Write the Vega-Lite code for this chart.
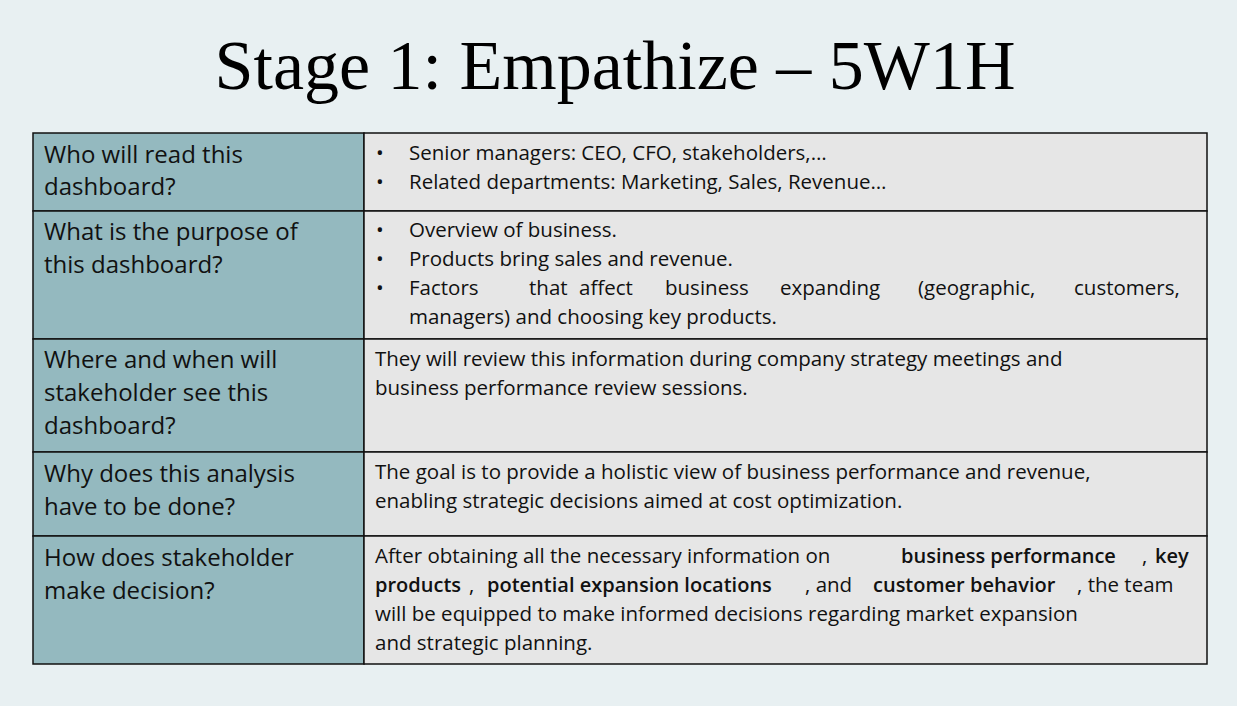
{
  "$schema": "https://vega.github.io/schema/vega-lite/v6.json",
  "width": 1237,
  "height": 706,
  "padding": 0,
  "autosize": {"type": "none"},
  "background": "#e8f0f2",
  "config": {"view": {"stroke": null}},
  "datasets": {
    "cells": [
      {"x0": 33, "x1": 364, "y0": 133, "y1": 211, "col": "q"},
      {"x0": 364, "x1": 1207, "y0": 133, "y1": 211, "col": "a"},
      {"x0": 33, "x1": 364, "y0": 211, "y1": 339, "col": "q"},
      {"x0": 364, "x1": 1207, "y0": 211, "y1": 339, "col": "a"},
      {"x0": 33, "x1": 364, "y0": 339, "y1": 452, "col": "q"},
      {"x0": 364, "x1": 1207, "y0": 339, "y1": 452, "col": "a"},
      {"x0": 33, "x1": 364, "y0": 452, "y1": 536, "col": "q"},
      {"x0": 364, "x1": 1207, "y0": 452, "y1": 536, "col": "a"},
      {"x0": 33, "x1": 364, "y0": 536, "y1": 664, "col": "q"},
      {"x0": 364, "x1": 1207, "y0": 536, "y1": 664, "col": "a"}
    ],
    "questions": [
      {"x": 44, "y": 156, "t": "Who will read this"},
      {"x": 44, "y": 188, "t": "dashboard?"},
      {"x": 44, "y": 233, "t": "What is the purpose of"},
      {"x": 44, "y": 266, "t": "this dashboard?"},
      {"x": 44, "y": 361, "t": "Where and when will"},
      {"x": 44, "y": 394, "t": "stakeholder see this"},
      {"x": 44, "y": 427, "t": "dashboard?"},
      {"x": 44, "y": 475, "t": "Why does this analysis"},
      {"x": 44, "y": 508, "t": "have to be done?"},
      {"x": 44, "y": 559, "t": "How does stakeholder"},
      {"x": 44, "y": 592, "t": "make decision?"}
    ],
    "answers": [
      {"x": 376, "y": 154, "t": "•", "b": false},
      {"x": 409, "y": 154, "t": "Senior managers: CEO, CFO, stakeholders,…", "b": false},
      {"x": 376, "y": 183, "t": "•", "b": false},
      {"x": 409, "y": 183, "t": "Related departments: Marketing, Sales, Revenue…", "b": false},
      {"x": 376, "y": 231, "t": "•", "b": false},
      {"x": 409, "y": 231, "t": "Overview of business.", "b": false},
      {"x": 376, "y": 260, "t": "•", "b": false},
      {"x": 409, "y": 260, "t": "Products bring sales and revenue.", "b": false},
      {"x": 376, "y": 289, "t": "•", "b": false},
      {"x": 409, "y": 289, "t": "Factors", "b": false},
      {"x": 529, "y": 289, "t": "that", "b": false},
      {"x": 579, "y": 289, "t": "affect", "b": false},
      {"x": 665, "y": 289, "t": "business", "b": false},
      {"x": 780, "y": 289, "t": "expanding", "b": false},
      {"x": 918, "y": 289, "t": "(geographic,", "b": false},
      {"x": 1074, "y": 289, "t": "customers,", "b": false},
      {"x": 409, "y": 318, "t": "managers) and choosing key products.", "b": false},
      {"x": 375, "y": 360, "t": "They will review this information during company strategy meetings and", "b": false},
      {"x": 375, "y": 389, "t": "business performance review sessions.", "b": false},
      {"x": 375, "y": 473, "t": "The goal is to provide a holistic view of business performance and revenue,", "b": false},
      {"x": 375, "y": 502, "t": "enabling strategic decisions aimed at cost optimization.", "b": false},
      {"x": 375, "y": 557, "t": "After obtaining all the necessary information on", "b": false},
      {"x": 901, "y": 557, "t": "business performance", "b": true},
      {"x": 1142, "y": 557, "t": ",", "b": false},
      {"x": 1155, "y": 557, "t": "key", "b": true},
      {"x": 375, "y": 586, "t": "products", "b": true},
      {"x": 469, "y": 586, "t": ",", "b": false},
      {"x": 487, "y": 586, "t": "potential expansion locations", "b": true},
      {"x": 805, "y": 586, "t": ", and", "b": false},
      {"x": 873, "y": 586, "t": "customer behavior", "b": true},
      {"x": 1077, "y": 586, "t": ", the team", "b": false},
      {"x": 375, "y": 615, "t": "will be equipped to make informed decisions regarding market expansion", "b": false},
      {"x": 375, "y": 644, "t": "and strategic planning.", "b": false}
    ],
    "heading": [{"x": 615, "y": 68, "t": "Stage 1: Empathize – 5W1H"}]
  },
  "layer": [
    {
      "data": {"name": "cells"},
      "mark": {"type": "rect", "stroke": "#111111", "strokeWidth": 1.5},
      "encoding": {
        "x": {"field": "x0", "type": "quantitative", "scale": {"domain": [0, 1237]}, "axis": null},
        "x2": {"field": "x1"},
        "y": {"field": "y0", "type": "quantitative", "scale": {"domain": [0, 706], "reverse": true}, "axis": null},
        "y2": {"field": "y1"},
        "color": {"field": "col", "type": "nominal", "legend": null,
          "scale": {"domain": ["q", "a"], "range": ["#94b9bf", "#e6e6e6"]}},
        "opacity": {"value": 1}
      }
    },
    {
      "data": {"name": "questions"},
      "mark": {"type": "text", "align": "left", "baseline": "middle", "font": "Open Sans", "fontSize": 24, "color": "#111111"},
      "encoding": {
        "x": {"field": "x", "type": "quantitative", "scale": {"domain": [0, 1237]}, "axis": null},
        "y": {"field": "y", "type": "quantitative", "scale": {"domain": [0, 706], "reverse": true}, "axis": null},
        "text": {"field": "t"}
      }
    },
    {
      "data": {"name": "answers"},
      "transform": [{"filter": "!datum.b"}],
      "mark": {"type": "text", "align": "left", "baseline": "middle", "font": "Open Sans", "fontSize": 20.5, "color": "#111111"},
      "encoding": {
        "x": {"field": "x", "type": "quantitative", "scale": {"domain": [0, 1237]}, "axis": null},
        "y": {"field": "y", "type": "quantitative", "scale": {"domain": [0, 706], "reverse": true}, "axis": null},
        "text": {"field": "t"}
      }
    },
    {
      "data": {"name": "answers"},
      "transform": [{"filter": "datum.b"}],
      "mark": {"type": "text", "align": "left", "baseline": "middle", "font": "Open Sans", "fontSize": 20, "fontWeight": 600, "color": "#111111"},
      "encoding": {
        "x": {"field": "x", "type": "quantitative", "scale": {"domain": [0, 1237]}, "axis": null},
        "y": {"field": "y", "type": "quantitative", "scale": {"domain": [0, 706], "reverse": true}, "axis": null},
        "text": {"field": "t"}
      }
    },
    {
      "data": {"name": "heading"},
      "mark": {"type": "text", "align": "center", "baseline": "middle", "font": "Liberation Serif", "fontSize": 70, "color": "#000000"},
      "encoding": {
        "x": {"field": "x", "type": "quantitative", "scale": {"domain": [0, 1237]}, "axis": null},
        "y": {"field": "y", "type": "quantitative", "scale": {"domain": [0, 706], "reverse": true}, "axis": null},
        "text": {"field": "t"}
      }
    }
  ]
}
